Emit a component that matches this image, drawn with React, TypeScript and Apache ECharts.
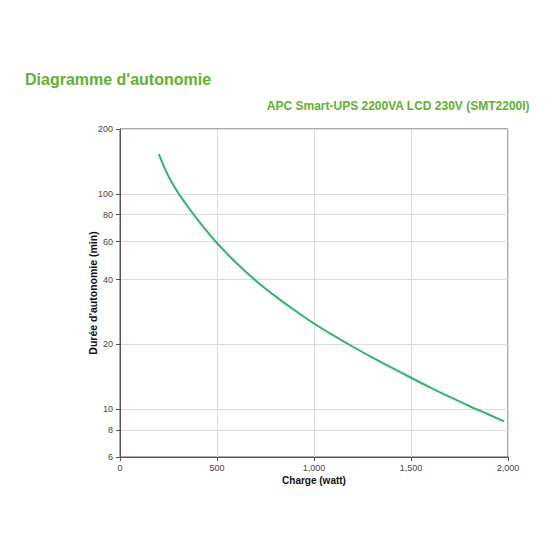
import * as echarts from 'echarts';
import { useEffect, useRef } from 'react';

const chartTitle = "Diagramme d'autonomie";
const chartSubtitle = 'APC Smart-UPS 2200VA LCD 230V (SMT2200I)';
const xAxisName = 'Charge (watt)';
const yAxisName = "Durée d'autonomie (min)";

// runtime curve (load in W, runtime in minutes)
const loadWatts = [
  200, 250, 300, 350, 400, 450, 500, 600, 700, 800, 900, 1000, 1100, 1200, 1300, 1400, 1500, 1600,
  1700, 1800, 1900, 1980,
];
const runtimeMinutes = [
  153, 120.6, 101, 87.1, 75.9, 66.7, 59.1, 47.7, 39.5, 33.5, 28.8, 25.0, 22.0, 19.5, 17.4, 15.6,
  14.0, 12.6, 11.4, 10.35, 9.45, 8.78,
];

const xTicks = [0, 500, 1000, 1500, 2000];
const yTicks = [6, 8, 10, 20, 40, 60, 80, 100, 200];

const GREEN = '#5fb12f';
const FONT = 'Arial, "Liberation Sans", sans-serif';

export default function App() {
  const chartRef = useRef<HTMLDivElement>(null);

  useEffect(() => {
    if (!chartRef.current) return;
    document.body.style.margin = '0';

    const chart = echarts.init(chartRef.current, undefined, { renderer: 'svg' });

    // log scale done by hand so the ticks can sit on 6, 8, 10, 20 ...
    const log = (v: number) => Math.log10(v);
    const yTickLogs = yTicks.map(log);

    chart.setOption({
      animation: false,
      backgroundColor: '#fff',
      textStyle: { fontFamily: FONT },
      grid: {
        left: 120,
        right: 52,
        top: 129,
        bottom: 103,
        show: true,
        borderColor: '#555',
        borderWidth: 1,
      },
      graphic: [
        {
          type: 'text',
          left: 25,
          top: 71,
          style: { text: chartTitle, fill: GREEN, font: `bold 16px ${FONT}` },
        },
        {
          type: 'text',
          right: 30,
          top: 100,
          style: { text: chartSubtitle, fill: GREEN, font: `bold 12px ${FONT}` },
        },
      ],
      xAxis: {
        type: 'value',
        min: xTicks[0],
        max: xTicks[xTicks.length - 1],
        interval: 500,
        name: xAxisName,
        nameLocation: 'middle',
        nameGap: 18,
        nameMoveOverlap: false,
        nameTextStyle: { fontWeight: 'bold', fontSize: 10, color: '#111' },
        axisLine: { lineStyle: { color: '#555' } },
        axisTick: { show: true, length: 4, lineStyle: { color: '#555' } },
        axisLabel: {
          fontSize: 9,
          color: '#444',
          margin: 6,
          formatter: (v: number) => v.toLocaleString('en-US'),
        },
        splitLine: { show: true, lineStyle: { color: '#dcdcdc' } },
      },
      yAxis: {
        type: 'value',
        min: log(yTicks[0]),
        max: log(yTicks[yTicks.length - 1]),
        name: yAxisName,
        nameLocation: 'middle',
        nameGap: 22,
        nameMoveOverlap: false,
        nameTextStyle: { fontWeight: 'bold', fontSize: 10.5, color: '#111' },
        axisLine: { show: true, lineStyle: { color: '#555' } },
        axisTick: {
          show: true,
          length: 4,
          lineStyle: { color: '#555' },
          customValues: yTickLogs,
        },
        axisLabel: {
          fontSize: 9,
          color: '#444',
          margin: 7,
          customValues: yTickLogs,
          formatter: (v: number) => String(Math.round(Math.pow(10, v))),
        },
        splitLine: { show: true, lineStyle: { color: '#dcdcdc' } },
      },
      series: [
        {
          type: 'line',
          data: loadWatts.map((w, i) => [w, log(runtimeMinutes[i])]),
          smooth: 0.3,
          showSymbol: false,
          lineStyle: { color: '#2fb56f', width: 2 },
          itemStyle: { color: '#2fb56f' },
        },
      ],
    });

    return () => {
      chart.dispose();
    };
  }, []);

  return <div ref={chartRef} style={{ width: '560px', height: '560px' }} />;
}
